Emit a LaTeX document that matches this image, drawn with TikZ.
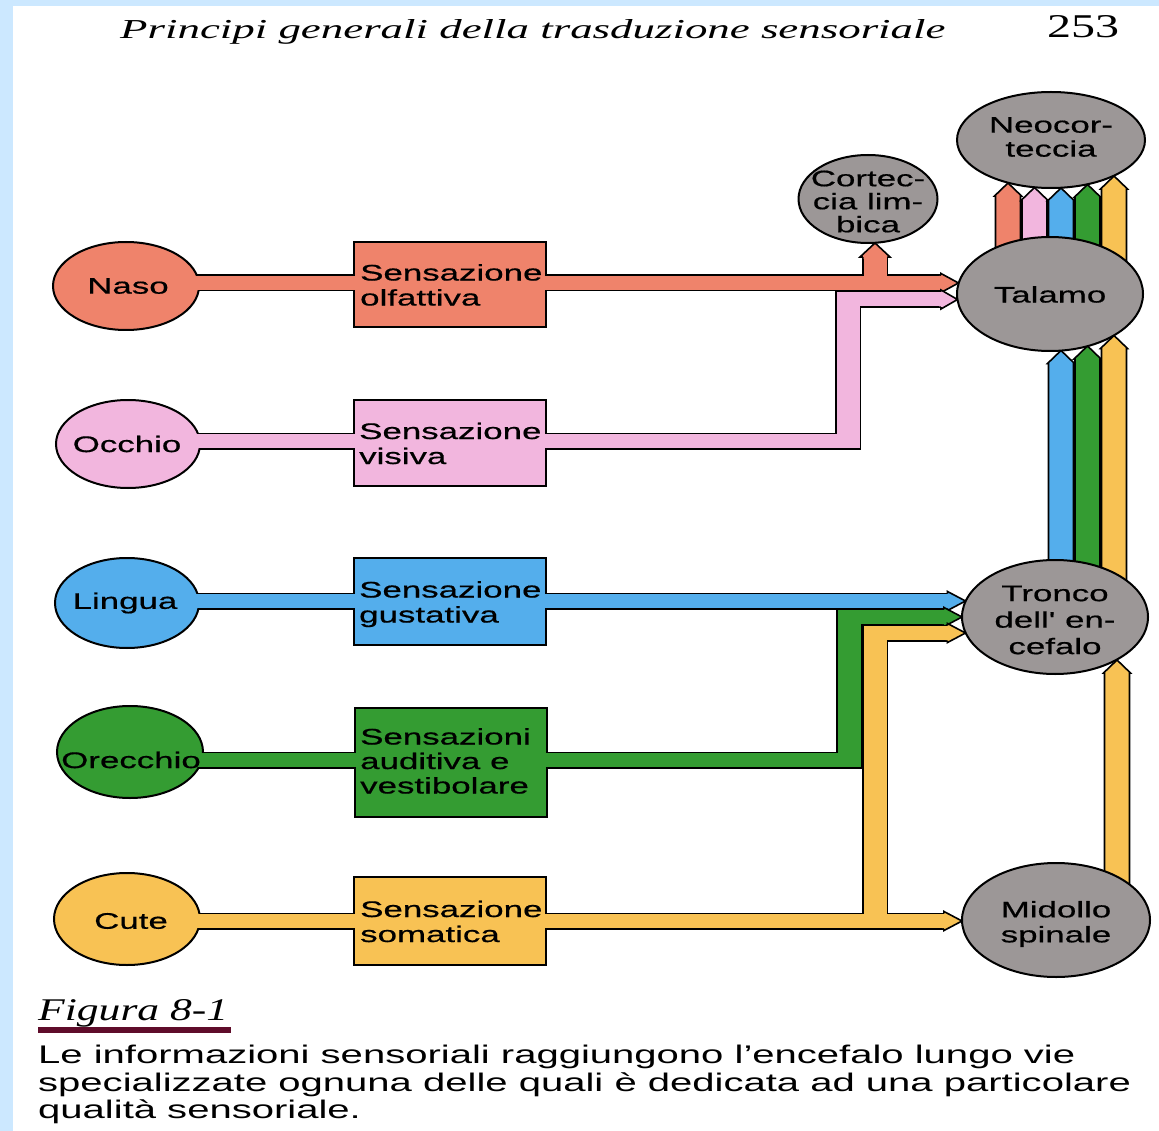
\documentclass[tikz,border=0pt]{standalone}
\usepackage{graphicx}
\usepackage{fontspec}
\setmainfont{Liberation Sans}
\newfontfamily\labfont[FakeStretch=1.55,FakeBold=0.6]{Liberation Sans}
\newfontfamily\capfont[FakeStretch=1.57]{Liberation Sans}
\newfontfamily\serifit{Liberation Serif}
\usetikzlibrary{shapes.geometric}
\definecolor{corange}{RGB}{239,131,107}
\definecolor{cpink}{RGB}{242,182,222}
\definecolor{cblue}{RGB}{84,174,236}
\definecolor{cgreen}{RGB}{52,156,50}
\definecolor{cyellow}{RGB}{248,194,84}
\definecolor{cgrey}{RGB}{156,151,151}
\definecolor{cbord}{RGB}{204,232,255}
\definecolor{cmaroon}{RGB}{95,12,42}
% band pieces: outer (black) and inner (colour)
\newcommand\bandHo[3]{\fill[black] (#1,#3-8.5) rectangle (#2,#3+8.5);}
\newcommand\bandVo[3]{\fill[black] (#1-13,#2) rectangle (#1+13,#3);}
\newcommand\bandHi[4]{\fill[#1] (#2,#4-7) rectangle (#3,#4+7);}
\newcommand\bandVi[4]{\fill[#1] (#2-11.5,#3) rectangle (#2+11.5,#4);}
% pencil tip pointing right: colour, x of shaft end, x of tip, y
\newcommand\tipR[4]{%
 \fill[#1] (#2-2,#4-7) -- (#2,#4-7) -- (#2,#4-9.5) -- (#3,#4) -- (#2,#4+9.5) -- (#2,#4+7) -- (#2-2,#4+7) -- cycle;
 \draw[line width=1.6pt] (#2,#4-7.75) -- (#2,#4-9.5) -- (#3,#4) -- (#2,#4+9.5) -- (#2,#4+7.75);}
% pencil tip pointing up: colour, x, y of shoulder, y of tip
\newcommand\tipU[4]{%
 \fill[#1] (#2-11.5,#3+2) -- (#2-11.5,#3) -- (#2-15,#3) -- (#2,#4) -- (#2+15,#3) -- (#2+11.5,#3) -- (#2+11.5,#3+2) -- cycle;
 \draw[line width=1.6pt] (#2-12.25,#3) -- (#2-15,#3) -- (#2,#4) -- (#2+15,#3) -- (#2+12.25,#3);}
% vertical pencil arrow: colour, x, y bottom, y tip
\newcommand\arrV[4]{\draw[fill=#1, line width=1.6pt, line join=miter] (#2-12.5,#3) -- (#2-12.5,#4+13) -- (#2-13.5,#4+13) -- (#2,#4) -- (#2+13.5,#4+13) -- (#2+12.5,#4+13) -- (#2+12.5,#3) -- cycle;}
\tikzset{
  lab/.style={font=\labfont\fontsize{22.5}{25}\selectfont, align=center, inner sep=0pt},
  blab/.style={font=\labfont\fontsize{22.5}{25}\selectfont, align=left, anchor=north west, inner sep=0pt},
  cell/.style={ellipse, draw=black, line width=2pt, inner sep=0pt},
  gell/.style={cell, fill=cgrey},
  sbox/.style={rectangle, draw=black, line width=2pt, inner sep=0pt, minimum width=192pt},
  txt/.style={anchor=base west, inner sep=0pt},
  ctxt/.style={anchor=base west, inner sep=0pt, font=\capfont\fontsize{25.5}{27}\selectfont}
}
\begin{document}
\begin{tikzpicture}[x=1pt,y=-1pt]
\useasboundingbox (0,0) rectangle (1159,1131);
\fill[white] (0,0) rectangle (1159,1131);
\fill[cbord] (0,0) rectangle (13,1131);
\fill[cbord] (0,0) rectangle (1159,6);

% ---------- bands ----------
% orange (smell)
\bandHo{126}{450}{283}
\bandHo{540}{941}{283}
\bandVo{875}{257}{283}
\bandHi{corange}{126}{450}{283}
\bandHi{corange}{540}{941}{283}
\bandVi{corange}{875}{257}{285}
\tipR{corange}{941}{958.5}{283}
\tipU{corange}{875}{257}{243}
% pink (vision)
\bandHo{128}{450}{441}
\bandHo{540}{861}{441}
\bandVo{848}{291}{449.5}
\bandHo{835}{941}{299.5}
\bandHi{cpink}{128}{450}{441}
\bandHi{cpink}{540}{859.5}{441}
\bandVi{cpink}{848}{292.5}{448}
\bandHi{cpink}{836.5}{941}{299.5}
\tipR{cpink}{941}{957.5}{299.5}
% blue (taste)
\bandHo{127}{450}{601}
\bandHo{540}{947.5}{601}
\bandHi{cblue}{127}{450}{601}
\bandHi{cblue}{540}{947.5}{601}
\tipR{cblue}{947.5}{965.5}{601}
% green (hearing)
\bandHo{130}{450}{760}
\bandHo{540}{862}{760}
\bandVo{849}{608.5}{768.5}
\bandHo{836}{944}{617}
\bandHi{cgreen}{130}{450}{760}
\bandHi{cgreen}{540}{860.5}{760}
\bandVi{cgreen}{849}{610}{767}
\bandHi{cgreen}{837.5}{944}{617}
\tipR{cgreen}{944}{962}{617}
% yellow (somatic)
\bandHo{127}{450}{921}
\bandHo{540}{944}{921}
\bandVo{875}{624.5}{921}
\bandHo{862}{947.5}{633}
\bandHi{cyellow}{127}{450}{921}
\bandHi{cyellow}{540}{944}{921}
\bandVi{cyellow}{875}{626}{922}
\bandHi{cyellow}{863.5}{947.5}{633}
\tipR{cyellow}{944}{962}{921}
\tipR{cyellow}{947.5}{965.5}{633}

% ---------- vertical arrows ----------
\arrV{corange}{1008}{294}{183}
\arrV{cpink}{1034.5}{294}{187.5}
\arrV{cblue}{1061}{294}{188}
\arrV{cgreen}{1087.5}{294}{184.5}
\arrV{cyellow}{1114}{300}{176}
\arrV{cblue}{1061}{617}{350.5}
\arrV{cgreen}{1087.5}{617}{346}
\arrV{cyellow}{1114}{617}{335.5}
\arrV{cyellow}{1117}{920}{660}

% ---------- shapes ----------
\node[cell, fill=corange, minimum width=146pt, minimum height=88pt] (naso) at (126,286) {};
\node[cell, fill=cpink, minimum width=144pt, minimum height=88pt] (occhio) at (128,444) {};
\node[cell, fill=cblue, minimum width=144pt, minimum height=90pt] (lingua) at (127,603) {};
\node[cell, fill=cgreen, minimum width=146pt, minimum height=92pt] (orecchio) at (130,752) {};
\node[cell, fill=cyellow, minimum width=146pt, minimum height=92pt] (cute) at (127,919) {};

\node[sbox, fill=corange, minimum height=85pt] (olf) at (450,284.5) {};
\node[sbox, fill=cpink, minimum height=86pt] (vis) at (450,443) {};
\node[sbox, fill=cblue, minimum height=87pt] (gus) at (450,601.5) {};
\node[sbox, fill=cgreen, minimum height=109pt] (aud) at (451,762.5) {};
\node[sbox, fill=cyellow, minimum height=88pt] (som) at (450,921) {};

\node[gell, minimum width=188pt, minimum height=96pt] (neo) at (1051,140) {};
\node[gell, minimum width=139pt, minimum height=88pt] (limb) at (868,199) {};
\node[gell, minimum width=186pt, minimum height=114pt] (thal) at (1050,294) {};
\node[gell, minimum width=186pt, minimum height=114pt] (tronco) at (1055,617) {};
\node[gell, minimum width=188pt, minimum height=114pt] (midollo) at (1056,920) {};

% ---------- joint patches (bands entering shapes) ----------
\bandHi{corange}{191}{201}{283}   \bandHi{corange}{350}{358}{283}   \bandHi{corange}{542}{550}{283}
\bandHi{cpink}{192}{202}{441}     \bandHi{cpink}{350}{358}{441}     \bandHi{cpink}{542}{550}{441}
\bandHi{cblue}{191}{201}{601}     \bandHi{cblue}{350}{358}{601}     \bandHi{cblue}{542}{550}{601}
\bandHi{cgreen}{195}{205}{760}    \bandHi{cgreen}{351}{359}{760}    \bandHi{cgreen}{543}{551}{760}
\bandHi{cyellow}{192}{202}{921}   \bandHi{cyellow}{350}{358}{921}   \bandHi{cyellow}{542}{550}{921}

% ---------- labels ----------
\node[lab] (naso-t) at (128,286) {Naso};
\node[lab] (occhio-t) at (127,444) {Occhio};
\node[lab] (lingua-t) at (125,603) {Lingua};
\node[lab] (orecchio-t) at (131,760) {Orecchio};
\node[lab] (cute-t) at (131,921) {Cute};

\node[blab] (olf-t) at (360,264) {Sensazione\\olfattiva};
\node[blab] (vis-t) at (359,422.5) {Sensazione\\visiva};
\node[blab] (gus-t) at (359,581) {Sensazione\\gustativa};
\node[blab, font=\labfont\fontsize{22.5}{24.5}\selectfont] (aud-t) at (360,728) {Sensazioni\\auditiva e\\vestibolare};
\node[blab] (som-t) at (360,900.5) {Sensazione\\somatica};

\node[lab, font=\labfont\fontsize{22.5}{24}\selectfont] (neo-t) at (1051,137) {Neocor-\\teccia};
\node[lab, font=\labfont\fontsize{22.5}{23}\selectfont] (limb-t) at (868,201.5) {Cortec-\\cia lim-\\bica};
\node[lab] (thal-t) at (1050,294.5) {Talamo};
\node[lab, font=\labfont\fontsize{22.5}{26.5}\selectfont] (tronco-t) at (1055,620) {Tronco\\dell' en-\\cefalo};
\node[lab] (midollo-t) at (1056,924) {Midollo\\spinale};

% ---------- header and caption ----------
\node[txt] (hdr) at (120,39) {\resizebox{825pt}{19pt}{\serifit\itshape Principi generali della trasduzione sensoriale}};
\node[txt] (pg) at (1047,38) {\resizebox{72pt}{22pt}{\serifit 253}};
\node[txt] (fig) at (38,1020) {\resizebox{190pt}{21pt}{\serifit\itshape Figura 8-1}};
\fill[cmaroon] (38,1027) rectangle (231,1033);
\node[ctxt] (cap1) at (38,1063) {Le informazioni sensoriali raggiungono l’encefalo lungo vie};
\node[ctxt] (cap2) at (38,1091) {specializzate ognuna delle quali è dedicata ad una particolare};
\node[ctxt] (cap3) at (38,1118) {qualità sensoriale.};
\end{tikzpicture}
\end{document}
